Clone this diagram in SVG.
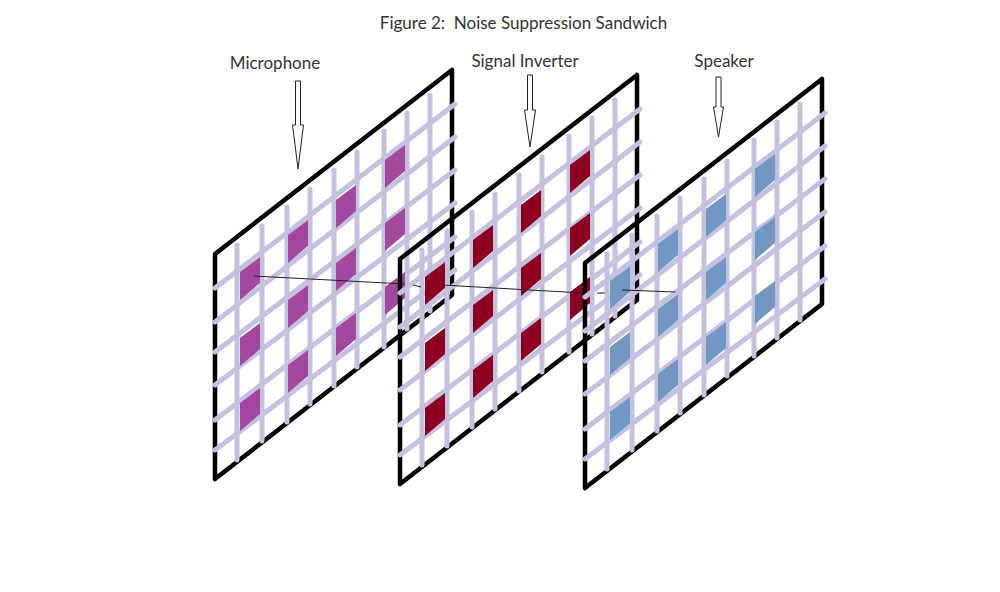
<svg xmlns="http://www.w3.org/2000/svg" width="1000" height="592" viewBox="0 0 1000 592">
<defs>
<style>
text{font-family:"Lato","Open Sans","Liberation Sans",sans-serif;font-size:17px;fill:#333;text-anchor:middle;white-space:pre}
.g{stroke:#c5c0e0;stroke-width:5;stroke-linecap:round;fill:none}
.b{stroke:#000;stroke-width:4.500;stroke-linejoin:round;fill:none}
.ar{fill:#fff;stroke:#222;stroke-width:1}
.t{stroke:#222;stroke-width:1;fill:none}
.p1{fill:#a4479f}.p2{fill:#8c0020}.p3{fill:#7098c2}
</style>
<g id="panel">
<path class="b" d="M215 479V254L452 70V295Z"/>
<path class="g" d="M237 245V460M262 226V441M287 207V422M310 189V404M334 170V386M357 152V367M384 131V347M407 113V329M430 95V311"/>
<path class="g" d="M215 288L455 104M215 322L455 137M215 352L455 170M215 385L455 203M215 420L455 237M215 450L455 270"/>
</g>
<path id="cell" d="M0 15L20 0V26L0 43Z"/>
<g id="cells"><use href="#cell" x="240" y="257"/><use href="#cell" x="240" y="323"/><use href="#cell" x="240" y="388"/><use href="#cell" x="288" y="220"/><use href="#cell" x="288" y="285"/><use href="#cell" x="288" y="350"/><use href="#cell" x="336" y="185"/><use href="#cell" x="336" y="248"/><use href="#cell" x="336" y="313"/><use href="#cell" x="385" y="145"/><use href="#cell" x="385" y="208"/><use href="#cell" x="385" y="272"/></g>
</defs>
<rect width="1000" height="592" fill="#fff"/>
<text x="523.500" y="29">Figure 2:  Noise Suppression Sandwich</text>
<g id="panel-microphone">
<use href="#panel"/>
<use href="#cells" class="p1"/>
<text x="275" y="69">Microphone</text>
<path class="ar" d="M295.500 81H300.500V125H303.500L298 169L292.500 125H295.500Z"/>
</g>
<g id="panel-inverter" transform="translate(185 5)">
<use href="#panel"/>
<use href="#cells" class="p2"/>
<text x="340" y="62">Signal Inverter</text>
<path class="ar" d="M342.500 70H347.500V105H350.500L345 142L339.500 105H342.500Z"/>
</g>
<g id="panel-speaker" transform="translate(370 9)">
<use href="#panel"/>
<use href="#cells" class="p3"/>
<text x="354" y="58">Speaker</text>
<path class="ar" d="M346 68H351V98H353.500L348.500 128L343.500 98H346Z"/>
</g>
<g id="connectors">
<path class="t" d="M254 276L405 284M413 285L421 287M442 285L583 293M597 293H605M622 290L675 292"/>
</g>
</svg>
